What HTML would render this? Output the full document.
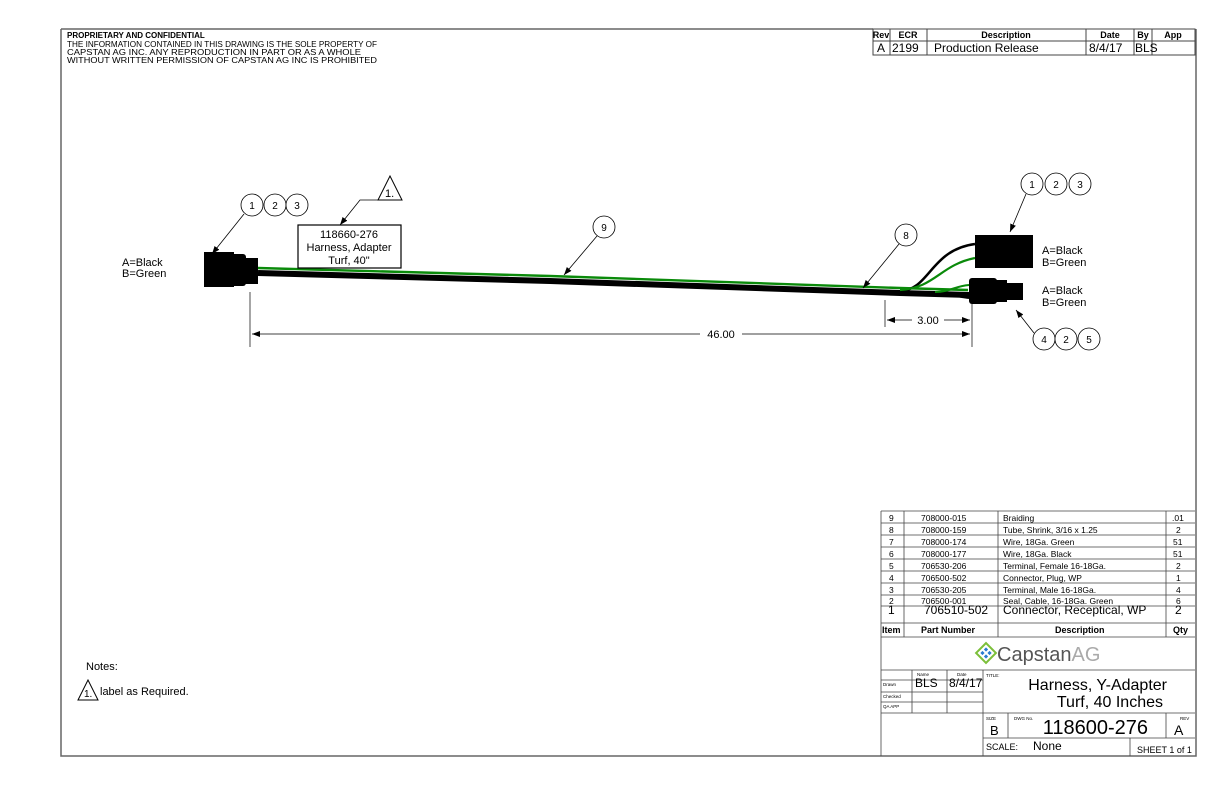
<!DOCTYPE html>
<html><head><meta charset="utf-8"><style>
html,body{margin:0;padding:0;background:#fff;}
svg{display:block;}
text{font-family:"Liberation Sans",sans-serif;fill:#000;}
</style></head><body>
<svg width="1224" height="792" viewBox="0 0 1224 792" xmlns="http://www.w3.org/2000/svg">
<defs>
<marker id="ar" markerWidth="8" markerHeight="6" refX="8" refY="3" orient="auto" markerUnits="userSpaceOnUse"><path d="M0,0 L8,3 L0,6z" fill="#000"/></marker>
</defs>
<g stroke="#666" stroke-width="1.5" fill="none">
<path d="M61,29 H873 M61,29 V756 H1196 V29"/>
</g>
<text x="67" y="38" font-size="8" font-weight="bold">PROPRIETARY AND CONFIDENTIAL</text>
<text x="67" y="47" font-size="8" textLength="310" lengthAdjust="spacingAndGlyphs">THE INFORMATION CONTAINED IN THIS DRAWING IS THE SOLE PROPERTY OF</text>
<text x="67" y="55" font-size="8" textLength="294" lengthAdjust="spacingAndGlyphs">CAPSTAN AG INC. ANY REPRODUCTION IN PART OR AS A WHOLE</text>
<text x="67" y="63" font-size="8" textLength="310" lengthAdjust="spacingAndGlyphs">WITHOUT WRITTEN PERMISSION OF CAPSTAN AG INC IS PROHIBITED</text>
<g stroke="#444" stroke-width="1" fill="none">
<rect x="873" y="29" width="322" height="26"/>
<path d="M873,41 H1195 M890,29 V55 M927,29 V55 M1086,29 V55 M1134,29 V55 M1152,29 V55"/>
</g>
<g font-size="9" font-weight="bold" text-anchor="middle">
<text x="881" y="38">Rev</text><text x="908" y="38">ECR</text><text x="1006" y="38">Description</text><text x="1110" y="38">Date</text><text x="1143" y="38">By</text><text x="1173" y="38">App</text>
</g>
<g font-size="12">
<text x="877" y="52">A</text><text x="892" y="52">2199</text><text x="934" y="52">Production Release</text><text x="1089" y="52">8/4/17</text><text x="1135" y="52">BLS</text>
</g>
<rect x="204" y="252" width="30" height="35" fill="#000"/>
<rect x="230" y="254" width="16" height="32" rx="3" fill="#000"/>
<rect x="244" y="258" width="14" height="26" fill="#000"/>
<path d="M258,273 L550,281 L900,293 L970,295" stroke="#000" stroke-width="6" fill="none"/>
<path d="M258,268 L550,276 L900,288 L968,290" stroke="#0a8a0a" stroke-width="2.4" fill="none"/>
<path d="M900,291 C930,290 930,250 975,244" stroke="#000" stroke-width="2.5" fill="none"/>
<path d="M900,290 C935,288 940,265 975,258" stroke="#0a8a0a" stroke-width="2.2" fill="none"/>
<path d="M935,292 C950,292 955,286 969,285" stroke="#0a8a0a" stroke-width="2" fill="none"/>
<path d="M935,294 C955,294 958,297 969,298" stroke="#000" stroke-width="2" fill="none"/>
<rect x="975" y="235" width="58" height="33" fill="#000"/>
<rect x="969" y="278" width="28" height="26" rx="3" fill="#000"/>
<rect x="995" y="280" width="12" height="22" fill="#000"/>
<rect x="1005" y="283" width="18" height="17" fill="#000"/>
<rect x="298" y="225" width="103" height="43" fill="#fff" stroke="#000" stroke-width="1.2"/>
<g font-size="11" text-anchor="middle"><text x="349" y="238">118660-276</text><text x="349" y="251">Harness, Adapter</text><text x="349" y="264">Turf, 40"</text></g>
<path d="M378,200 L390,176 L402,200Z" fill="#fff" stroke="#000"/>
<text x="385" y="197" font-size="11">1.</text>
<path d="M378,200 H360 L340,225" stroke="#000" stroke-width="0.8" fill="none" marker-end="url(#ar)"/>
<g fill="#fff" stroke="#000" stroke-width="0.8">
<circle cx="252" cy="205" r="11"/><circle cx="275" cy="205" r="11"/><circle cx="297" cy="205" r="11"/>
<circle cx="604" cy="227" r="11"/><circle cx="906" cy="235" r="11"/>
<circle cx="1032" cy="184" r="11"/><circle cx="1056" cy="184" r="11"/><circle cx="1080" cy="184" r="11"/>
<circle cx="1044" cy="339" r="11"/><circle cx="1066" cy="339" r="11"/><circle cx="1089" cy="339" r="11"/>
</g>
<g font-size="10" text-anchor="middle">
<text x="252" y="209">1</text><text x="275" y="209">2</text><text x="297" y="209">3</text>
<text x="604" y="231">9</text><text x="906" y="239">8</text>
<text x="1032" y="188">1</text><text x="1056" y="188">2</text><text x="1080" y="188">3</text>
<text x="1044" y="343">4</text><text x="1066" y="343">2</text><text x="1089" y="343">5</text>
</g>
<g stroke="#000" stroke-width="0.8" fill="none" marker-end="url(#ar)">
<path d="M244,214 L212,254"/><path d="M597,236 L564,275"/><path d="M899,244 L863,288"/>
<path d="M1026,194 L1010,232"/><path d="M1034,333 L1016,310"/>
</g>
<g font-size="11"><text x="122" y="266">A=Black</text><text x="122" y="277">B=Green</text>
<text x="1042" y="254">A=Black</text><text x="1042" y="266">B=Green</text>
<text x="1042" y="294">A=Black</text><text x="1042" y="306">B=Green</text></g>
<g stroke="#000" stroke-width="0.7" fill="none">
<path d="M250,292 V347 M972,303 V347 M885,300 V327"/>
<path d="M700,334 H252" marker-end="url(#ar)"/><path d="M742,334 H970" marker-end="url(#ar)"/>
<path d="M912,320 H887" marker-end="url(#ar)"/><path d="M944,320 H970" marker-end="url(#ar)"/>
</g>
<text x="721" y="338" font-size="11" text-anchor="middle">46.00</text>
<text x="928" y="324" font-size="11" text-anchor="middle">3.00</text>
<text x="86" y="670" font-size="11">Notes:</text>
<path d="M78,700 L88,680 L98,700Z" fill="#fff" stroke="#000"/>
<text x="84" y="697" font-size="10">1.</text>
<text x="100" y="695" font-size="11">label as Required.</text>
<g stroke="#444" stroke-width="0.8" fill="none">
<path d="M881,511 V756 M881,511 H1195"/>
<path d="M904,511 V637 M998,511 V637 M1166,511 V637"/>
<path d="M881,523 H1195 M881,535 H1195 M881,547 H1195 M881,559 H1195 M881,571 H1195 M881,583 H1195 M881,595 H1195 M881,606 H1195 M881,623 H1195 M881,637 H1195 M881,670 H1195"/>
<path d="M881,680 H983 M881,692 H983 M881,702 H983 M881,713 H1195 M912,670 V713 M947,670 V713 M983,670 V756 M983,738 H1195 M1008,713 V738 M1166,713 V738 M1130,738 V756"/>
</g>
<g font-size="8.5">
<text x="889" y="521">9</text><text x="921" y="521">708000-015</text><text x="1003" y="521">Braiding</text><text x="1172" y="521">.01</text>
<text x="889" y="533">8</text><text x="921" y="533">708000-159</text><text x="1003" y="533">Tube, Shrink, 3/16 x 1.25</text><text x="1176" y="533">2</text>
<text x="889" y="545">7</text><text x="921" y="545">708000-174</text><text x="1003" y="545">Wire, 18Ga. Green</text><text x="1173" y="545">51</text>
<text x="889" y="557">6</text><text x="921" y="557">708000-177</text><text x="1003" y="557">Wire, 18Ga. Black</text><text x="1173" y="557">51</text>
<text x="889" y="569">5</text><text x="921" y="569">706530-206</text><text x="1003" y="569">Terminal, Female 16-18Ga.</text><text x="1176" y="569">2</text>
<text x="889" y="581">4</text><text x="921" y="581">706500-502</text><text x="1003" y="581">Connector, Plug, WP</text><text x="1176" y="581">1</text>
<text x="889" y="593">3</text><text x="921" y="593">706530-205</text><text x="1003" y="593">Terminal, Male 16-18Ga.</text><text x="1176" y="593">4</text>
<text x="889" y="604">2</text><text x="921" y="604">706500-001</text><text x="1003" y="604">Seal, Cable, 16-18Ga. Green</text><text x="1176" y="604">6</text>
</g>
<g font-size="12"><text x="888" y="614">1</text><text x="924" y="614">706510-502</text><text x="1003" y="614">Connector, Receptical, WP</text><text x="1175" y="614">2</text></g>
<g font-size="9" font-weight="bold"><text x="882" y="633">Item</text><text x="921" y="633">Part Number</text><text x="1055" y="633">Description</text><text x="1173" y="633">Qty</text></g>
<g transform="translate(986,653) rotate(45)">
<rect x="-7" y="-7" width="14" height="14" fill="none" stroke="#7cbf3a" stroke-width="2"/>
<rect x="-4" y="-4" width="3" height="3" fill="#2a7bd0"/><rect x="1" y="-4" width="3" height="3" fill="#2a7bd0"/>
<rect x="-4" y="1" width="3" height="3" fill="#2a7bd0"/><rect x="1" y="1" width="3" height="3" fill="#2a7bd0"/>
</g>
<text x="997" y="661" font-size="20" style="fill:#555">Capstan<tspan style="fill:#aaa">AG</tspan></text>
<g font-size="4.5"><text x="883" y="686">Drawn</text><text x="883" y="698">Checked</text><text x="883" y="708">QA APP</text>
<text x="917" y="676">Name</text><text x="957" y="676">Date</text><text x="986" y="677">TITLE:</text>
<text x="986" y="720">SIZE</text><text x="1014" y="720">DWG No.</text><text x="1180" y="720">REV</text></g>
<text x="915" y="687" font-size="12">BLS</text><text x="949" y="687" font-size="12">8/4/17</text>
<text x="1167" y="690" font-size="16" text-anchor="end">Harness, Y-Adapter</text>
<text x="1163" y="707" font-size="16" text-anchor="end">Turf, 40 Inches</text>
<text x="990" y="735" font-size="13">B</text>
<text x="1148" y="734" font-size="20" text-anchor="end">118600-276</text>
<text x="1174" y="735" font-size="14">A</text>
<text x="986" y="750" font-size="9">SCALE:</text><text x="1033" y="750" font-size="12">None</text>
<text x="1137" y="753" font-size="9">SHEET 1 of 1</text>
</svg>
</body></html>
